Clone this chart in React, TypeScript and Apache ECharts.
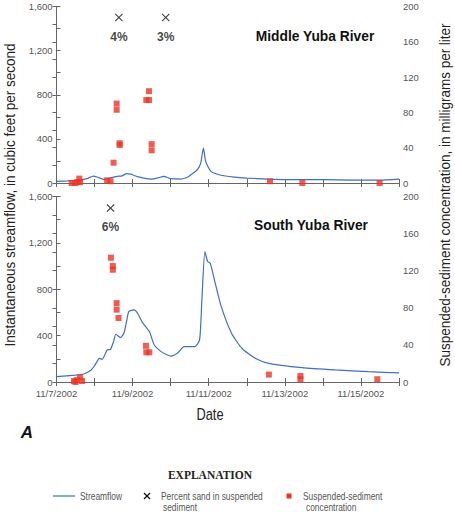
import React, { useEffect, useRef } from "react";
import * as echarts from "echarts";

// x values are days after 11/7/2002 00:00
const dateTickLabels = ["11/7/2002", "", "11/9/2002", "", "11/11/2002", "", "11/13/2002", "", "11/15/2002", ""];
const flowTicks = [0, 400, 800, 1200, 1600];
const concTicks = [0, 40, 80, 120, 160, 200];

const middleFlow: [number, number][] = [
  [0, 15], [0.3, 20], [0.6, 28], [0.8, 40], [0.97, 62], [1.1, 50], [1.25, 32], [1.4, 45], [1.59, 60],
  [1.72, 65], [1.85, 85], [1.95, 80], [2.03, 70], [2.15, 55], [2.29, 45], [2.51, 36], [2.65, 45],
  [2.82, 60], [2.9, 52], [3.0, 40], [3.26, 36], [3.45, 55], [3.53, 75], [3.7, 120], [3.79, 180],
  [3.86, 317], [3.92, 196], [4.06, 105], [4.32, 70], [4.67, 54], [5.0, 45], [5.55, 36], [6.2, 30],
  [7.0, 30], [7.8, 26], [8.5, 26], [9.0, 36],
];
const middleSediment: [number, number][] = [
  [0.40, 0], [0.49, 0], [0.55, 1], [0.60, 5], [0.62, 1], [1.33, 3], [1.42, 2], [1.50, 23], [1.58, 90],
  [1.58, 83], [1.66, 45], [1.66, 43], [2.36, 94], [2.43, 94], [2.43, 104], [2.50, 44], [2.50, 37],
  [5.61, 2], [6.46, 0], [8.49, 0],
];
const middleSand: [number, number, string][] = [[1.64, 1500, "4%"], [2.87, 1500, "3%"]];

const southFlow: [number, number][] = [
  [0, 46], [0.5, 60], [0.71, 69], [0.91, 104], [1.0, 140], [1.13, 204], [1.2, 196], [1.33, 276],
  [1.42, 282], [1.5, 350], [1.56, 412], [1.68, 383], [1.77, 420], [1.84, 520], [1.9, 607], [2.04, 622],
  [2.13, 593], [2.26, 512], [2.44, 435], [2.57, 319], [2.75, 262], [2.9, 235], [3.01, 224], [3.19, 253],
  [3.35, 305], [3.63, 305], [3.76, 363], [3.82, 708], [3.9, 1125], [3.97, 1040], [4.04, 1025],
  [4.16, 866], [4.33, 650], [4.6, 420], [4.87, 291], [5.22, 204], [5.57, 161], [6.45, 124], [7.33, 104],
  [8.2, 89], [9.0, 78],
];
const southSediment: [number, number][] = [
  [0.46, 1], [0.53, 2], [0.62, 5], [0.67, 1], [0.5, 0], [1.43, 134], [1.48, 125], [1.48, 121], [1.58, 85],
  [1.58, 78], [1.63, 69], [2.35, 39], [2.36, 32], [2.44, 32], [5.58, 8], [6.41, 6.5], [6.41, 3], [8.43, 3],
];
const southSand: [number, number, string][] = [[1.42, 1500, "6%"]];

const panelTitles = ["Middle Yuba River", "South Yuba River"];

const FONT = "'Liberation Sans', Arial, sans-serif";
const BLUE = "#3d6fc2";
const RED = "#ec3326";
const AXIS = "#666";
const LABEL = "#555";

const crossPath = "path://M1,0 L5,4 L9,0 L10,1 L6,5 L10,9 L9,10 L5,6 L1,10 L0,9 L4,5 L0,1 Z";

function xAxes(grid: number, showLabels: boolean) {
  const base = {
    type: "value", gridIndex: grid, min: 0, max: 9, interval: 1,
    axisLine: { show: true, lineStyle: { color: AXIS, width: 1 } },
    axisTick: { show: true, inside: true, length: 4, lineStyle: { color: AXIS } },
    splitLine: { show: false },
  };
  return [
    {
      ...base, position: "bottom",
      axisLabel: {
        show: showLabels, color: LABEL, fontFamily: FONT, fontSize: 9.5, margin: 6,
        formatter: (v: number) => dateTickLabels[Math.round(v)] ?? "",
      },
    },
    { ...base, position: "top", axisLabel: { show: false } },
  ];
}

function yAxes(grid: number) {
  return [
    {
      type: "value", gridIndex: grid, position: "left", min: 0, max: 1600, interval: 400,
      axisLine: { show: true, lineStyle: { color: AXIS, width: 1 } },
      axisTick: { show: true, inside: true, length: 4, lineStyle: { color: AXIS } },
      minorTick: { show: true, splitNumber: 2, length: 4, lineStyle: { color: AXIS } },
      splitLine: { show: false },
      axisLabel: {
        color: LABEL, fontFamily: FONT, fontSize: 9.5, margin: 4,
        formatter: (v: number) => (flowTicks.includes(v) ? v.toLocaleString("en-US") : ""),
      },
    },
    {
      type: "value", gridIndex: grid, position: "right", min: 0, max: 200, interval: 40,
      axisLine: { show: true, lineStyle: { color: AXIS, width: 1 } },
      axisTick: { show: true, inside: true, length: 4, lineStyle: { color: AXIS } },
      minorTick: { show: true, splitNumber: 2, length: 4, lineStyle: { color: AXIS } },
      splitLine: { show: false },
      axisLabel: {
        color: LABEL, fontFamily: FONT, fontSize: 9.5, margin: 4,
        formatter: (v: number) => (concTicks.includes(v) ? String(v) : ""),
      },
    },
  ];
}

function panelSeries(xi: number, yi: number, flow: [number, number][], sed: [number, number][], sand: [number, number, string][]) {
  return [
    {
      type: "line", xAxisIndex: xi, yAxisIndex: yi, data: flow, showSymbol: false, smooth: 0.2,
      lineStyle: { color: BLUE, width: 1.2 }, z: 3,
    },
    {
      type: "scatter", xAxisIndex: xi, yAxisIndex: yi + 1, data: sed, symbol: "rect", symbolSize: 6,
      itemStyle: { color: RED }, z: 4,
    },
    {
      type: "scatter", xAxisIndex: xi, yAxisIndex: yi, data: sand, symbol: crossPath, symbolSize: 8,
      itemStyle: { color: "#111" }, z: 5,
      label: {
        show: true, position: "bottom", distance: 9, formatter: (p: any) => p.data[2],
        fontFamily: FONT, fontWeight: "bold", fontSize: 12, color: "#111",
      },
    },
  ];
}

export default function App() {
  const ref = useRef<HTMLDivElement>(null);
  useEffect(() => {
    if (!ref.current) return;
    const chart = echarts.init(ref.current, null, { renderer: "svg" });
    const legendText = { fontFamily: FONT, fontSize: 10.5, fill: "#555", verticalAlign: "middle" };
    const cond = 0.8;
    chart.setOption({
      animation: false,
      backgroundColor: "#fff",
      grid: [
        { left: 56.5, top: 6.5, width: 342.5, height: 176.5 },
        { left: 56.5, top: 196.5, width: 342.5, height: 185.5 },
      ],
      xAxis: [...xAxes(0, false), ...xAxes(1, true)],
      yAxis: [...yAxes(0), ...yAxes(1)],
      series: [
        ...panelSeries(0, 0, middleFlow, middleSediment, middleSand),
        ...panelSeries(2, 2, southFlow, southSediment, southSand),
      ],
      graphic: [
        { type: "text", x: 315, y: 35.5, scaleX: 0.92, style: { text: panelTitles[0], align: "center", verticalAlign: "middle", fontFamily: FONT, fontWeight: "bold", fontSize: 15, fill: "#111" } },
        { type: "text", x: 311, y: 225, scaleX: 0.92, style: { text: panelTitles[1], align: "center", verticalAlign: "middle", fontFamily: FONT, fontWeight: "bold", fontSize: 15, fill: "#111" } },
        { type: "text", x: 10, y: 195, rotation: Math.PI / 2, scaleX: 0.9, style: { text: "Instantaneous streamflow, in cubic feet per second", align: "center", verticalAlign: "middle", fontFamily: FONT, fontSize: 15, fill: "#222" } },
        { type: "text", x: 445, y: 195, rotation: Math.PI / 2, scaleX: 0.9, style: { text: "Suspended-sediment concentration, in milligrams per liter", align: "center", verticalAlign: "middle", fontFamily: FONT, fontSize: 15, fill: "#222" } },
        { type: "text", x: 210, y: 414, scaleX: 0.8, style: { text: "Date", align: "center", verticalAlign: "middle", fontFamily: FONT, fontSize: 16, fill: "#222" } },
        { type: "text", x: 27, y: 432, style: { text: "A", align: "center", verticalAlign: "middle", fontFamily: FONT, fontWeight: "bold", fontStyle: "italic", fontSize: 17, fill: "#111" } },
        { type: "text", x: 210, y: 475, style: { text: "EXPLANATION", align: "center", verticalAlign: "middle", fontFamily: "'Liberation Serif', 'DejaVu Serif', serif", fontWeight: "bold", fontSize: 11.5, fill: "#222" } },
        { type: "line", shape: { x1: 53, y1: 496, x2: 75, y2: 496 }, style: { stroke: BLUE, lineWidth: 1.2 } },
        { type: "text", x: 80, y: 496, scaleX: cond, style: { ...legendText, text: "Streamflow" } },
        { type: "line", shape: { x1: 144, y1: 493, x2: 150, y2: 499 }, style: { stroke: "#111", lineWidth: 1.3 } },
        { type: "line", shape: { x1: 150, y1: 493, x2: 144, y2: 499 }, style: { stroke: "#111", lineWidth: 1.3 } },
        { type: "text", x: 161, y: 496, scaleX: cond, style: { ...legendText, text: "Percent sand in suspended" } },
        { type: "text", x: 163, y: 507, scaleX: cond, style: { ...legendText, text: "sediment" } },
        { type: "rect", shape: { x: 286.5, y: 493.5, width: 5, height: 5 }, style: { fill: RED } },
        { type: "text", x: 303, y: 496, scaleX: cond, style: { ...legendText, text: "Suspended-sediment" } },
        { type: "text", x: 306, y: 507, scaleX: cond, style: { ...legendText, text: "concentration" } },
      ],
    });
    return () => chart.dispose();
  }, []);
  return <div ref={ref} style={{ position: "absolute", left: 0, top: 0, width: 455, height: 513 }} />;
}
